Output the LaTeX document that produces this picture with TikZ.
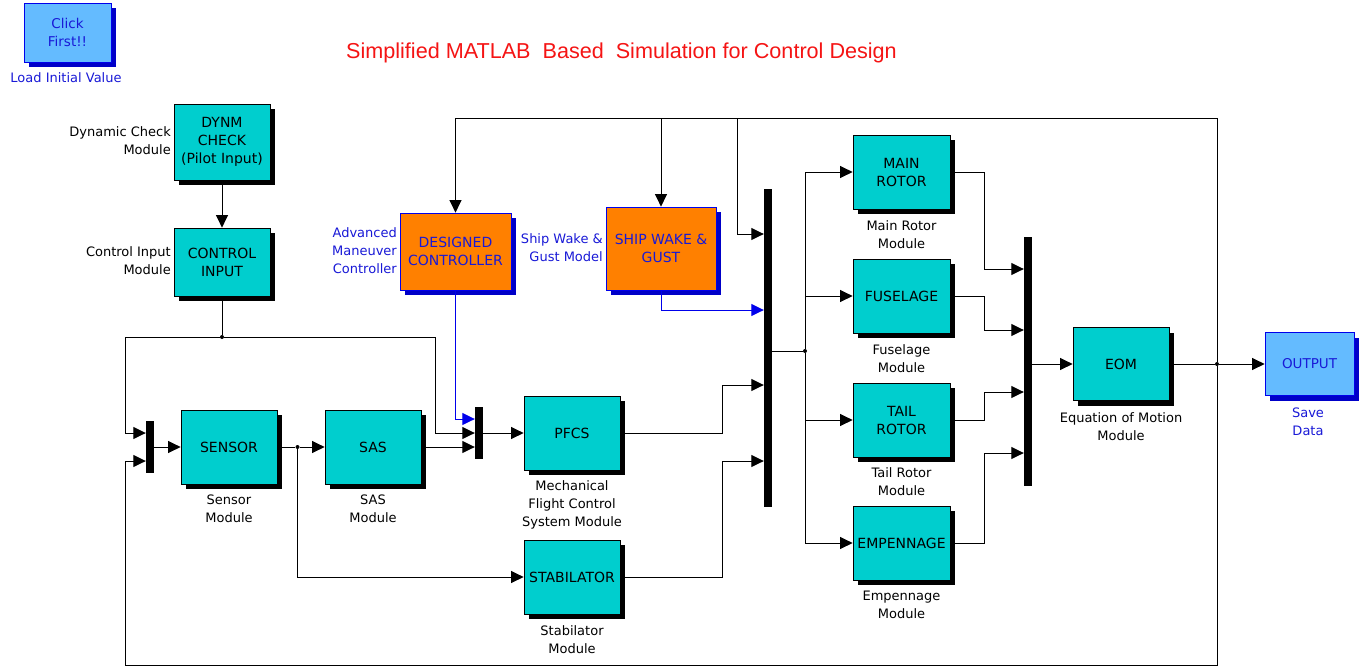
\documentclass[tikz,border=0pt]{standalone}
\usepackage{fontspec}
\setmainfont{DejaVu Sans}
\newfontfamily\titlefont{Liberation Sans}
\usetikzlibrary{arrows.meta,shadows}

\definecolor{blockcyan}{RGB}{0,206,206}
\definecolor{ctrlorange}{RGB}{255,128,0}
\definecolor{iolight}{RGB}{100,187,255}
\definecolor{edgeblue}{RGB}{0,0,235}
\definecolor{shadeblue}{RGB}{0,0,200}
\definecolor{textblue}{RGB}{25,25,215}
\definecolor{titlered}{RGB}{245,20,20}

\tikzset{
  >={Triangle[length=12.5pt,width=12pt]},
  wire/.style={line width=1pt, draw=black},
  sig/.style={wire, ->},
  bluesig/.style={line width=1pt, draw=edgeblue, ->},
  dims/.style 2 args={minimum width=#1pt, minimum height=#2pt},
  block/.style={draw=black, line width=0.8pt, fill=blockcyan, inner sep=0pt,
    align=center, font=\fontsize{14}{18}\selectfont,
    drop shadow={shadow xshift=5pt, shadow yshift=-5pt, fill=black, opacity=1}},
  ctrlblock/.style={draw=edgeblue, line width=0.8pt, fill=ctrlorange, inner sep=0pt,
    align=center, text=textblue, font=\fontsize{14}{18}\selectfont,
    drop shadow={shadow xshift=5pt, shadow yshift=-5pt, fill=shadeblue, opacity=1}},
  ioblock/.style={draw=edgeblue, line width=0.8pt, fill=iolight, inner sep=0pt,
    align=center, text=textblue, font=\fontsize{13.5}{18}\selectfont,
    drop shadow={shadow xshift=5pt, shadow yshift=-5pt, fill=shadeblue, opacity=1}},
  mux/.style={fill=black, inner sep=0pt, minimum width=8pt},
  dot/.style={circle, fill=black, inner sep=0pt, minimum size=4pt},
  lbl/.style={align=center, inner sep=0pt, font=\fontsize{13}{18}\selectfont},
  bluelbl/.style={lbl, text=textblue},
}

\begin{document}
\begin{tikzpicture}[x=1pt,y=-1pt]
\useasboundingbox (0,0) rectangle (1363,667);
\fill[white] (0,0) rectangle (1363,667);

% title
\node[text=titlered, font=\titlefont\fontsize{21.6}{24}\selectfont, inner sep=0pt, anchor=base] (title) at (621.5,58)
  {Simplified MATLAB\ \ Based\ \ Simulation for Control Design};

% initial value loader
\node[ioblock, dims={87}{59}] (click) at (67.5,32.5) {Click\\First!!};
\node[bluelbl] (clicklbl) at (66,78) {Load Initial Value};

% pilot input chain
\node[block, dims={96}{76}] (dynm) at (222,142) {DYNM\\CHECK\\(Pilot Input)};
\node[lbl, anchor=east, align=right] (dynmlbl) at (171,141) {Dynamic Check\\Module};
\node[block, dims={96}{68}] (ctrl) at (222,262) {CONTROL\\INPUT};
\node[lbl, anchor=east, align=right] (ctrllbl) at (171,261) {Control Input\\Module};

% controller and disturbance
\node[ctrlblock, dims={111}{77}] (desc) at (455.5,251.5) {DESIGNED\\CONTROLLER};
\node[bluelbl, anchor=east, align=right] (desclbl) at (397,251) {Advanced\\Maneuver\\Controller};
\node[ctrlblock, dims={110}{83}] (ship) at (661,248.5) {SHIP WAKE \&\\GUST};
\node[bluelbl, anchor=east, align=right] (shiplbl) at (603,248) {Ship Wake \&\\Gust Model};

% sensing and augmentation
\node[mux, minimum height=52pt] (mux1) at (150,447) {};
\node[block, dims={96}{74}] (sensor) at (229,447) {SENSOR};
\node[lbl] (sensorlbl) at (229,509) {Sensor\\Module};
\node[block, dims={96}{74}] (sas) at (373,447) {SAS};
\node[lbl] (saslbl) at (373,509) {SAS\\Module};
\node[mux, minimum height=52pt] (mux2) at (479,433) {};
\node[block, dims={96}{74}] (pfcs) at (572,433) {PFCS};
\node[lbl] (pfcslbl) at (572,505) {Mechanical\\Flight Control\\System Module};
\node[block, dims={96}{74}] (stab) at (572,577) {STABILATOR};
\node[lbl] (stablbl) at (572,640) {Stabilator\\Module};

% force and moment modules
\node[mux, minimum height=318pt] (mux3) at (768,348) {};
\node[block, dims={97}{74}] (main) at (901.5,172) {MAIN\\ROTOR};
\node[lbl] (mainlbl) at (901.5,235) {Main Rotor\\Module};
\node[block, dims={97}{74}] (fus) at (901.5,296) {FUSELAGE};
\node[lbl] (fuslbl) at (901.5,359) {Fuselage\\Module};
\node[block, dims={97}{74}] (tail) at (901.5,420) {TAIL\\ROTOR};
\node[lbl] (taillbl) at (901.5,482) {Tail Rotor\\Module};
\node[block, dims={97}{74}] (emp) at (901.5,543) {EMPENNAGE};
\node[lbl] (emplbl) at (901.5,605) {Empennage\\Module};

% equations of motion and output
\node[mux, minimum height=249pt] (mux4) at (1028,361.5) {};
\node[block, dims={96}{73}] (eom) at (1121,364) {EOM};
\node[lbl] (eomlbl) at (1121,427) {Equation of Motion\\Module};
\node[ioblock, dims={89}{63}] (out) at (1309.5,364) {OUTPUT};
\node[bluelbl] (outlbl) at (1308,422) {Save\\Data};

% junctions
\node[dot] (j1) at (222,337) {};
\node[dot] (j2) at (297.5,447) {};
\node[dot] (j3) at (805,351) {};
\node[dot] (j4) at (1217,364) {};
\coordinate (tr) at (1217,118);
\coordinate (br) at (1217,665);
\coordinate (bl) at (125,665);
\coordinate (shiptap) at (661,118);
\coordinate (bustap) at (737,118);

% pilot input wiring
\draw[sig] (dynm.south) -- (ctrl.north);
\draw[wire] (ctrl.south) -- (j1);
\draw[sig] (j1) -- (125,337) |- (mux1.west |- 0,433);
\draw[sig] (j1) -- (435,337) |- (mux2.west |- 0,433);

% state feedback loop
\draw[wire] (j4) -- (br) -- (bl);
\draw[sig] (bl) |- (mux1.west |- 0,461);
\draw[sig] (j4) -- (tr) -| (desc.north);
\draw[sig] (shiptap) -- (ship.north);
\draw[sig] (bustap) |- (mux3.west |- 0,234);

% sensor / SAS path
\draw[sig] (mux1.east) -- (sensor.west);
\draw[wire] (sensor.east) -- (j2);
\draw[sig] (j2) -- (sas.west);
\draw[sig] (j2) |- (stab.west);
\draw[sig] (sas.east) -- (mux2.west |- sas.east);
\draw[bluesig] (desc.south) |- (mux2.west |- 0,419);
\draw[sig] (mux2.east) -- (pfcs.west);

% into the main bus
\draw[sig] (pfcs.east) -- (722,433) |- (mux3.west |- 0,385);
\draw[sig] (stab.east) -- (722,577) |- (mux3.west |- 0,461);
\draw[bluesig] (ship.south) |- (mux3.west |- 0,310);

% bus fan-out to modules
\draw[wire] (mux3.east |- j3) -- (j3);
\draw[sig] (j3) |- (main.west);
\draw[sig] (j3) |- (emp.west);
\draw[sig] (j3 |- fus.west) -- (fus.west);
\draw[sig] (j3 |- tail.west) -- (tail.west);

% module outputs to summing bus
\draw[sig] (main.east) -| (984,269) -- (mux4.west |- 0,269);
\draw[sig] (fus.east) -| (984,330) -- (mux4.west |- 0,330);
\draw[sig] (tail.east) -| (984,392) -- (mux4.west |- 0,392);
\draw[sig] (emp.east) -| (984,453) -- (mux4.west |- 0,453);

% equations of motion to output
\draw[sig] (mux4.east |- eom.west) -- (eom.west);
\draw[wire] (eom.east) -- (j4);
\draw[sig] (j4) -- (out.west);
\end{tikzpicture}
\end{document}
